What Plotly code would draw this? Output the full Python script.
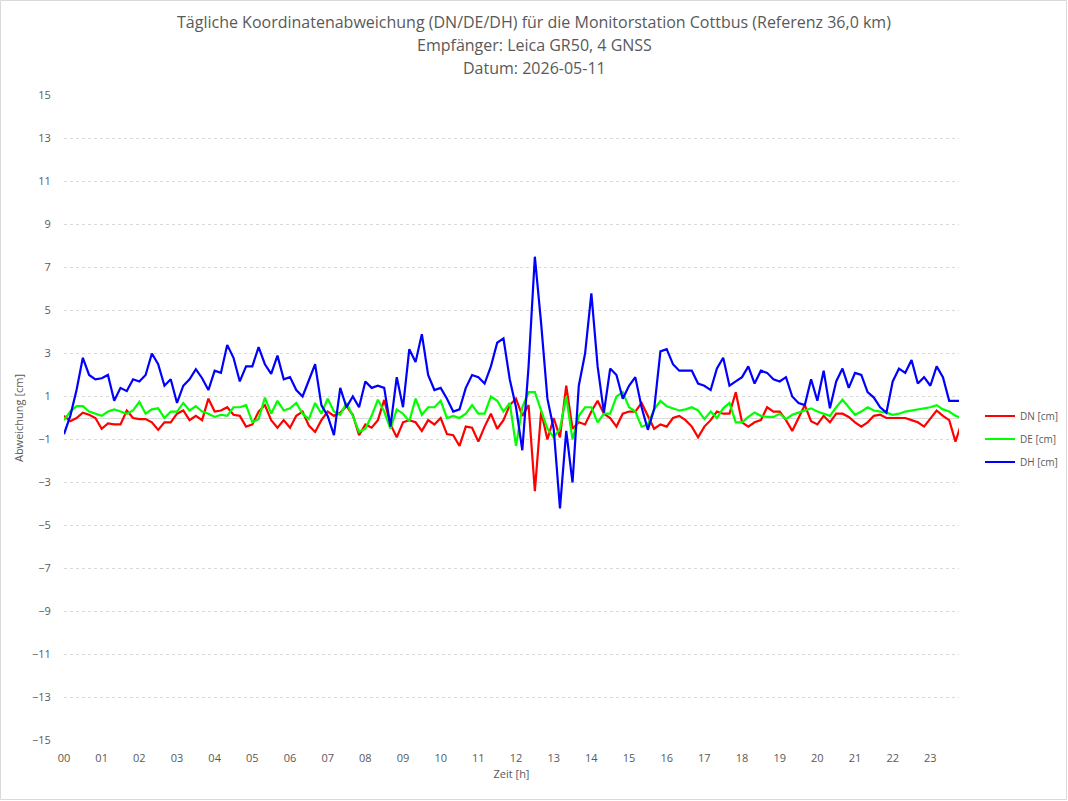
import plotly.graph_objects as go

# sampling: every 10 minutes from 00:00
hour_labels = ["00", "01", "02", "03", "04", "05", "06", "07", "08", "09", "10", "11",
               "12", "13", "14", "15", "16", "17", "18", "19", "20", "21", "22", "23"]
steps_per_hour = 6

dn_cm = [
    0.1, -0.15, 0.0, 0.25, 0.15, 0.0,
    -0.5, -0.25, -0.3, -0.3, 0.35, 0.0,
    -0.05, -0.05, -0.2, -0.55, -0.2, -0.2,
    0.2, 0.35, -0.1, 0.1, -0.1, 0.9,
    0.3, 0.35, 0.5, 0.15, 0.1, -0.4,
    -0.3, 0.3, 0.6, -0.1, -0.45, -0.1,
    -0.45, 0.1, 0.3, -0.35, -0.65, -0.1,
    0.3, 0.1, 0.25, 0.55, 0.15, -0.8,
    -0.3, -0.45, -0.1, 0.84, -0.3, -0.9,
    -0.2, -0.1, -0.2, -0.6, -0.1, -0.3,
    0.0, -0.75, -0.8, -1.3, -0.4, -0.45,
    -1.1, -0.4, 0.2, -0.5, -0.1, 0.6,
    0.9, 0.1, 0.6, -3.4, 0.3, -1.0,
    0.0, -0.9, 1.5, -0.5, -0.2, -0.3,
    0.3, 0.8, 0.2, 0.0, -0.4, 0.2,
    0.3, 0.3, 0.7, 0.1, -0.5, -0.3,
    -0.4, 0.0, 0.1, -0.1, -0.4, -0.9,
    -0.4, -0.1, 0.3, 0.2, 0.2, 1.2,
    -0.2, -0.4, -0.2, -0.1, 0.5, 0.3,
    0.3, -0.1, -0.6, 0.0, 0.6, -0.15,
    -0.3, 0.1, -0.2, 0.2, 0.2, 0.05,
    -0.2, -0.4, -0.2, 0.1, 0.15, 0.0,
    0.0, 0.0, 0.0, -0.1, -0.2, -0.4,
    0.0, 0.35, 0.1, -0.1, -1.1, -0.2,
]

de_cm = [
    -0.1, 0.3, 0.55, 0.55, 0.3, 0.2,
    0.1, 0.3, 0.4, 0.3, 0.2, 0.35,
    0.75, 0.2, 0.4, 0.45, 0.0, 0.3,
    0.3, 0.7, 0.35, 0.55, 0.3, 0.2,
    0.05, 0.15, 0.1, 0.5, 0.5, 0.6,
    -0.2, -0.05, 0.95, 0.2, 0.8, 0.35,
    0.45, 0.7, 0.2, -0.05, 0.7, 0.2,
    0.9, 0.3, 0.15, 0.7, 0.1, -0.65,
    -0.5, 0.1, 0.85, 0.3, -0.5, 0.4,
    0.2, -0.15, 0.9, 0.15, 0.5, 0.5,
    0.8, 0.0, 0.1, 0.0, 0.2, 0.6,
    0.2, 0.2, 1.0, 0.8, 0.3, 0.7,
    -1.3, 0.5, 1.2, 1.2, 0.35, -0.5,
    -0.9, -0.5, 1.0, -1.0, 0.1, 0.5,
    0.5, -0.2, 0.2, 0.2, 1.0, 1.2,
    0.5, 0.3, -0.4, -0.3, 0.4, 0.8,
    0.55, 0.45, 0.35, 0.4, 0.5, 0.35,
    -0.05, 0.3, 0.0, 0.45, 0.7, -0.2,
    -0.2, 0.05, 0.25, 0.1, 0.05, 0.05,
    0.2, -0.05, 0.15, 0.25, 0.35, 0.45,
    0.3, 0.2, 0.1, 0.5, 0.85, 0.5,
    0.15, 0.3, 0.5, 0.35, 0.3, 0.25,
    0.15, 0.2, 0.3, 0.35, 0.4, 0.45,
    0.5, 0.6, 0.4, 0.3, 0.1, 0.0,
]

dh_cm = [
    -0.75, 0.1, 1.3, 2.8, 2.0, 1.8,
    1.85, 2.0, 0.8, 1.4, 1.25, 1.8,
    1.7, 2.0, 3.0, 2.5, 1.5, 1.8,
    0.7, 1.5, 1.8, 2.27, 1.85, 1.3,
    2.2, 2.1, 3.4, 2.8, 1.7, 2.4,
    2.4, 3.3, 2.5, 2.05, 2.9, 1.8,
    1.9, 1.3, 1.0, 1.8, 2.5, 0.6,
    0.1, -0.8, 1.4, 0.5, 1.0, 0.5,
    1.7, 1.4, 1.5, 1.4, -0.4, 1.9,
    0.5, 3.2, 2.6, 3.9, 2.0, 1.3,
    1.4, 0.9, 0.3, 0.4, 1.4, 2.0,
    1.9, 1.6, 2.4, 3.5, 3.7, 1.8,
    0.5, -1.5, 2.4, 7.5, 4.4, 0.9,
    -0.5, -4.2, -0.6, -3.0, 1.5, 3.0,
    5.8, 2.4, 0.25, 2.3, 2.0, 0.9,
    1.5, 1.9, 0.5, -0.55, 0.4, 3.1,
    3.2, 2.5, 2.2, 2.2, 2.2, 1.6,
    1.5, 1.3, 2.3, 2.8, 1.5, 1.7,
    1.9, 2.4, 1.6, 2.2, 2.1, 1.8,
    1.7, 1.9, 1.0, 0.7, 0.6, 1.8,
    0.8, 2.2, 0.45, 1.7, 2.3, 1.4,
    2.1, 2.0, 1.2, 0.95, 0.5, 0.25,
    1.7, 2.3, 2.1, 2.7, 1.6, 1.9,
    1.5, 2.4, 1.9, 0.8, 0.8, 0.8,
]

y_ticks = [15, 13, 11, 9, 7, 5, 3, 1, -1, -3, -5, -7, -9, -11, -13, -15]

title_lines = [
    "Tägliche Koordinatenabweichung (DN/DE/DH) für die Monitorstation Cottbus (Referenz 36,0 km)",
    "Empfänger: Leica GR50, 4 GNSS",
    "Datum: 2026-05-11",
]

hours = [i / steps_per_hour for i in range(len(dh_cm))]

FONT = "Open Sans"
GREY = "#595959"

fig = go.Figure()
for name, vals, col, grp in [("DN [cm]", dn_cm, "#FF0000", "a"),
                              ("DE [cm]", de_cm, "#00FF00", "b"),
                              ("DH [cm]", dh_cm, "#0000FF", "c")]:
    fig.add_trace(go.Scatter(x=hours, y=vals, mode="lines", name=name,
                             legendgroup=grp,
                             line=dict(color=col, width=2.2)))

W, H = 1068, 801
L, R, T, B = 64, 109, 95, 60
pw, ph = W - L - R, H - T - B

annotations = []
for txt, ypix in zip(title_lines, [22, 45, 68]):
    annotations.append(dict(text=txt, xref="paper", yref="paper",
                            x=(534 - L) / pw, y=(H - B - ypix) / ph,
                            xanchor="center", yanchor="middle", showarrow=False,
                            font=dict(family=FONT, size=16, color=GREY)))

fig.update_layout(
    width=W, height=H,
    margin=dict(l=L, r=R, t=T, b=B, pad=0, autoexpand=False),
    paper_bgcolor="white", plot_bgcolor="white",
    font=dict(family=FONT, size=11, color=GREY),
    annotations=annotations,
    showlegend=True,
    legend=dict(x=(980 - L) / pw, y=(H - B - 439) / ph, xanchor="left", yanchor="middle",
                font=dict(family=FONT, size=10, color=GREY),
                tracegroupgap=4, bgcolor="rgba(0,0,0,0)"),
    xaxis=dict(range=[0, 23.76], tickmode="array", tickvals=list(range(24)),
               ticktext=hour_labels, showgrid=False, zeroline=False, showline=False,
               ticks="outside", ticklen=7, tickcolor="rgba(0,0,0,0)",
               tickfont=dict(size=11, color=GREY),
               title=dict(text="Zeit [h]", font=dict(size=11, color=GREY), standoff=6)),
    yaxis=dict(range=[-15.02, 15.02], tickmode="array", tickvals=y_ticks,
               showgrid=True, gridcolor="#d9d9d9", griddash="dot", gridwidth=1,
               zeroline=True, zerolinecolor="#d9d9d9", zerolinewidth=1.3,
               showline=False, ticks="outside", ticklen=10, tickcolor="rgba(0,0,0,0)",
               tickfont=dict(size=11, color=GREY),
               title=dict(text="Abweichung [cm]", font=dict(size=11, color=GREY), standoff=6)),
    shapes=[dict(type="rect", xref="paper", yref="paper",
                 x0=(0.5 - L) / pw, x1=(W - 1.5 - L) / pw,
                 y0=(H - B - (H - 1.5)) / ph, y1=(H - B - 0.5) / ph,
                 line=dict(color="#d9d9d9", width=1), layer="below")],
)

fig.write_html("out.html")
